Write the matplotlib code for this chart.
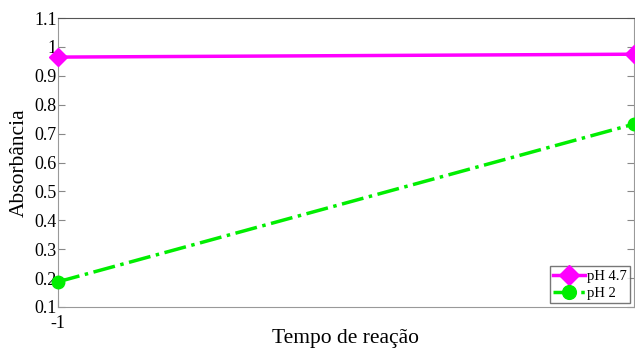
import matplotlib
matplotlib.use("Agg")
from matplotlib import pyplot as plt

# reaction time points and absorbance readings
tempo = [-1, 0]
ph47 = [0.965, 0.975]
ph2 = [0.187, 0.733]

plt.rcParams['font.family'] = ['Liberation Serif', 'DejaVu Serif']

fig = plt.figure(figsize=(6.35, 3.48), dpi=100)
ax = fig.add_axes([0.0913, 0.118, 0.907, 0.830])

ax.plot(tempo, ph47, color='#ff00ff', lw=2.5, marker='D', ms=9,
        label='pH 4.7', clip_on=False, zorder=3)
ax.plot(tempo, ph2, color='#00ee00', lw=2.5, ls='-.', marker='o', ms=9,
        label='pH 2', clip_on=False, zorder=3)

ax.set_xlim(-1, 0)
ax.set_ylim(0.1, 1.1)
ax.set_xticks([-1])
ax.set_xticklabels(['-1'])
ax.set_yticks([0.1, 0.2, 0.3, 0.4, 0.5, 0.6, 0.7, 0.8, 0.9, 1.0, 1.1])
ax.set_yticklabels(['0.1', '0.2', '0.3', '0.4', '0.5', '0.6', '0.7',
                    '0.8', '0.9', '1', '1.1'])
ax.tick_params(direction='in', length=5, color='#888888', labelsize=13,
               right=True, top=False)
ax.tick_params(axis='y', pad=1)
ax.tick_params(axis='x', pad=6)

for s in ax.spines.values():
    s.set_color('#999999')
ax.spines['top'].set_color('#555555')

ax.set_xlabel('Tempo de reação', fontsize=15.5, labelpad=-2)
ax.set_ylabel('Absorbância', fontsize=15.5, labelpad=4)

leg = ax.legend(loc='lower right', fontsize=10.5, frameon=True, fancybox=False,
                borderpad=0.25, handlelength=2.2, handletextpad=0.1,
                labelspacing=0.25, borderaxespad=0.25, markerscale=1.1)
leg.get_frame().set_edgecolor('#555555')
leg.get_frame().set_linewidth(1)

fig.savefig('out.png', dpi=100)
